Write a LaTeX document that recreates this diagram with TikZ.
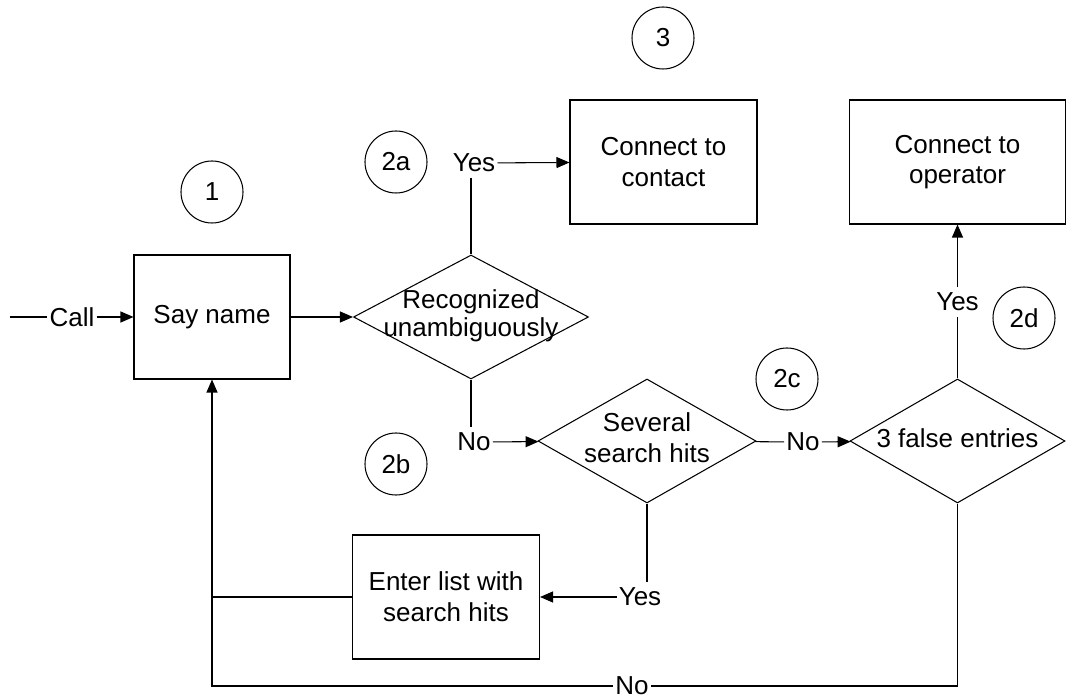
\documentclass[tikz,border=0pt]{standalone}
\usepackage{fontspec}
\setmainfont{Liberation Sans}
\usepackage{tikz}
\usetikzlibrary{arrows.meta,positioning,shapes.geometric}
\newcommand{\dtext}[1]{\makebox[0pt]{\begin{tabular}{@{}c@{}}#1\end{tabular}}}

\begin{document}
\begin{tikzpicture}[
  font=\fontsize{14.8}{17.5}\selectfont,
  line width=0.6pt,
  arr/.style={-{Triangle[length=0.26cm,width=0.22cm]}},
  box/.style={draw,minimum width=3.74cm,minimum height=2.48cm,align=center,inner sep=0pt},
  dec/.style={draw,diamond,minimum height=2.48cm,inner sep=0pt},
  num/.style={draw,circle,minimum size=1.24cm,inner sep=0pt},
  lab/.style={inner xsep=1pt,inner ysep=3pt}]
\useasboundingbox (0,0) rectangle (21.32,-13.98);
% steps
\node[box,minimum width=3.12cm] (say) at (4.24,-6.34) {Say name};
\node[dec,minimum width=4.70cm] (recog) at (9.42,-6.34)
  {\fontsize{14.8}{16}\selectfont\dtext{Recognized\\unambiguously}};
\node[box] (contact) at (13.27,-3.24) {Connect to\\contact};
\node[box,minimum width=4.32cm] (operator) at (19.15,-3.24) {Connect to\\operator};
\node[dec,minimum width=4.36cm] (several) at (12.94,-8.82) {\dtext{Several\\search hits}};
\node[dec,minimum width=4.30cm] (false) at (19.15,-8.82) {\dtext{3 false entries}};
\node[box] (enter) at (8.92,-11.94) {Enter list with\\search hits};
% numbers
\foreach \n/\x/\y in {1/4.24/-3.84, 2a/7.92/-3.24, 3/13.26/-0.76, 2b/7.92/-9.28, 2c/15.74/-7.58, 2d/20.48/-6.36}{
  \node[num] (c\n) at (\x,\y) {\n};
}
% labels on the lines
\coordinate (start) at (0.2,-6.34);
\node[lab] (call) at (1.44,-6.34) {Call};
\node[lab] (yes1) at (9.48,-3.26) {Yes};
\node[lab] (no1) at (9.48,-8.84) {No};
\node[lab] (no2) at (16.06,-8.84) {No};
\node[lab] (yes2) at (19.15,-6.04) {Yes};
\node[lab] (yes3) at (12.8,-11.94) {Yes};
\node[lab] (no3) at (12.64,-13.72) {No};
% connectors
\draw (start) -- (call);
\draw[arr] (call) -- (say);
\draw[arr] (say) -- (recog);
\draw (recog.north) -- (recog.north |- yes1.south);
\draw[arr] (yes1) -- (contact);
\draw (recog.south) -- (recog.south |- no1.north);
\draw[arr] (no1) -- (several);
\draw (several) -- (no2);
\draw[arr] (no2) -- (false);
\draw (false.north) -- (yes2.south);
\draw[arr] (yes2) -- (operator);
\draw (several.south) -- (several.south |- yes3.north);
\draw[arr] (yes3) -- (enter);
\draw (false.south) |- (no3.east);
\draw[arr] (no3.west) -| (say.south);
\draw (enter.west) -- (enter.west -| say.south);
\end{tikzpicture}
\end{document}
